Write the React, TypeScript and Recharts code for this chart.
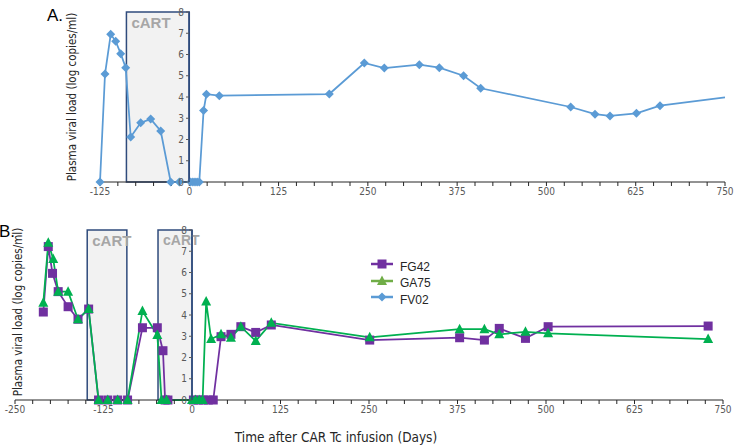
import React from "react";
import { LineChart, Line, XAxis, YAxis, ReferenceArea } from "recharts";

// Panel A: FV02
const fv02Days = [-125, -118, -110, -103, -96, -89, -82, -68, -54, -40, -26, -14, 2, 5, 8, 11, 14, 20, 24, 42, 196, 245, 273, 322, 350, 384, 408, 534, 568, 589, 626, 659, 750];
const fv02Load = [0, 5.08, 6.95, 6.62, 6.04, 5.38, 2.12, 2.79, 2.96, 2.4, 0, 0, 0, 0, 0, 0, 0, 3.36, 4.13, 4.06, 4.14, 5.6, 5.36, 5.52, 5.38, 5.0, 4.41, 3.53, 3.19, 3.11, 3.23, 3.59, 3.98];

// Panel B: FG42 and GA75
const fg42Days = [-210, -203, -197, -189, -175, -161, -146, -132, -119, -105, -91, -70, -49, -41, -38, -34, 2, 9, 16, 23, 30, 41, 55, 69, 90, 112, 251, 378, 413, 434, 471, 503, 729];
const fg42Load = [4.14, 7.22, 5.96, 5.1, 4.39, 3.8, 4.28, 0, 0, 0, 0, 3.4, 3.4, 2.32, 0, 0, 0, 0, 0, 0, 0, 2.98, 3.09, 3.45, 3.18, 3.53, 2.82, 2.93, 2.82, 3.37, 2.9, 3.45, 3.48];
const ga75Days = [-210, -203, -196, -189, -175, -161, -146, -132, -119, -105, -91, -70, -49, -43, -36, 0, 5, 10, 15, 20, 27, 41, 55, 69, 90, 112, 251, 378, 413, 434, 471, 503, 729];
const ga75Load = [4.58, 7.4, 6.63, 5.1, 5.1, 3.8, 4.28, 0, 0, 0, 0, 4.19, 3.06, 0, 0, 0, 0, 0, 0, 4.63, 2.87, 3.09, 2.93, 3.45, 2.78, 3.63, 2.95, 3.33, 3.33, 3.09, 3.21, 3.14, 2.87];

// cART periods
const cartA = [-88, 0];
const cartB1 = [-148, -92];
const cartB2 = [-48, 0];

const seriesNames = ["FG42", "GA75", "FV02"];
const yTicks = [0, 1, 2, 3, 4, 5, 6, 7, 8];
const xTicksA = [-125, -100, -75, -50, -25, 0, 25, 50, 75, 100, 125, 150, 175, 200, 225, 250, 275, 300, 325, 350, 375, 400, 425, 450, 475, 500, 525, 550, 575, 600, 625, 650, 675, 700, 725, 750];
const xTicksB = [-250, -225, -200, -175, -150, ...xTicksA];

const PURPLE = "#7030a0";
const GREEN = "#00b050";
const BLUE = "#5b9bd5";
const NAVY = "#2f4b7c";
const TICK = "#595959";
const FONT = '"Liberation Sans Narrow", "DejaVu Sans Condensed", "Liberation Sans", sans-serif';

const zip = (days: number[], load: number[]) => days.map((d, i) => ({ day: d, load: load[i] }));
const fv02 = zip(fv02Days, fv02Load);
const fg42 = zip(fg42Days, fg42Load);
const ga75 = zip(ga75Days, ga75Load);

const fmtX = (v: number) => (v % 125 === 0 ? String(v) : "");

function marker(shape: string, color: string, cx: number, cy: number, key?: any) {
  if (shape === "diamond")
    return <path key={key} d={`M${cx},${cy - 4.5}L${cx + 4.5},${cy}L${cx},${cy + 4.5}L${cx - 4.5},${cy}Z`} fill={color} />;
  if (shape === "square") return <rect key={key} x={cx - 4.5} y={cy - 4.5} width={9} height={9} fill={color} />;
  return <path key={key} d={`M${cx},${cy - 5.5}L${cx + 5},${cy + 4}L${cx - 5},${cy + 4}Z`} fill={color} />;
}

const dotFor = (shape: string, color: string, skipLast = 0) => (p: any) => {
  if (skipLast && p.index >= skipLast - 1) return <g key={p.index} />;
  return marker(shape, color, p.cx, p.cy, p.index);
};

const shapes: Record<string, [string, string]> = {
  FG42: ["square", PURPLE],
  GA75: ["triangle", "#70ad47"],
  FV02: ["diamond", BLUE],
};

function LegendBox() {
  return (
    <div style={{ position: "absolute", left: 370, top: 256, fontFamily: '"Liberation Sans", sans-serif', fontSize: 12, color: "#262626" }}>
      {seriesNames.map((name) => {
        const [shape, color] = shapes[name];
        return (
          <div key={name} style={{ display: "flex", alignItems: "center", height: 16.5 }}>
            <svg width={24} height={12} style={{ marginRight: 6 }}>
              <line x1={1} x2={23} y1={6} y2={6} stroke={color} strokeWidth={2.5} />
              {marker(shape, color, 12, 6)}
            </svg>
            <span style={{ marginTop: 5 }}>{name}</span>
          </div>
        );
      })}
    </div>
  );
}

const cartLabel = { value: "cART", position: "insideTopLeft" as const, fill: "#a6a6a6", fontSize: 15, fontWeight: "bold", fontFamily: '"Liberation Sans", sans-serif' };

// second chart whose y axis sits at day 0
function YOverlay({ top, height, left, bottom, data }: { top: number; height: number; left: number; bottom: number; data: any[] }) {
  return (
    <div style={{ position: "absolute", left: 0, top, pointerEvents: "none" }}>
      <LineChart width={743} height={height} data={data} margin={{ top: 12, right: 18, bottom, left }}>
        <XAxis type="number" dataKey="day" domain={[0, 750]} allowDataOverflow hide />
        <YAxis
          type="number"
          domain={[0, 8]}
          ticks={yTicks}
          width={20}
          tickSize={3}
          axisLine={{ stroke: NAVY, strokeWidth: 1.5 }}
          tickLine={{ stroke: TICK }}
          tick={{ fill: TICK, fontSize: 10, fontFamily: FONT }}
        />
        <Line dataKey="load" stroke="none" dot={false} isAnimationActive={false} />
      </LineChart>
    </div>
  );
}

export default function App() {
  const xTick = { fill: TICK, fontSize: 10, fontFamily: FONT };
  return (
    <div style={{ position: "absolute", left: 0, top: 0, width: 743, height: 445, background: "#fff" }}>
      <div style={{ position: "absolute", left: 47, top: 6, fontSize: 17, fontFamily: '"Liberation Sans", sans-serif' }}>A.</div>
      <div style={{ position: "absolute", left: -1, top: 222, fontSize: 17, fontFamily: '"Liberation Sans", sans-serif' }}>B.</div>

      {/* Panel A */}
      <div style={{ position: "absolute", left: 0, top: 0 }}>
        <LineChart width={743} height={210} margin={{ top: 12, right: 18, bottom: 8, left: 100 }}>
          <ReferenceArea x1={cartA[0]} x2={cartA[1]} y1={0} y2={8} fill="#f2f2f2" fillOpacity={1} stroke={NAVY} strokeWidth={1.5} label={cartLabel} />
          <XAxis
            type="number"
            dataKey="day"
            domain={[-125, 750]}
            ticks={xTicksA}
            tickFormatter={fmtX}
            interval={0}
            height={20}
            tickSize={4}
            axisLine={{ stroke: "#262626" }}
            tickLine={{ stroke: "#262626" }}
            tick={xTick}
          />
          <YAxis type="number" domain={[0, 8]} hide />
          <Line data={fv02} dataKey="load" name="FV02" stroke={BLUE} strokeWidth={1.75} dot={dotFor("diamond", BLUE, fv02.length)} isAnimationActive={false} />
        </LineChart>
      </div>
      <YOverlay top={0} height={210} left={169} bottom={28} data={fv02} />

      {/* Panel B */}
      <div style={{ position: "absolute", left: 0, top: 218 }}>
        <LineChart width={743} height={227} margin={{ top: 12, right: 20, bottom: 5, left: 15 }}>
          <ReferenceArea x1={cartB1[0]} x2={cartB1[1]} y1={0} y2={8} fill="#f2f2f2" fillOpacity={1} stroke={NAVY} strokeWidth={1.5} label={cartLabel} />
          <ReferenceArea x1={cartB2[0]} x2={cartB2[1]} y1={0} y2={8} fill="#f2f2f2" fillOpacity={1} stroke={NAVY} strokeWidth={1.5} label={{ ...cartLabel, fontSize: 14, offset: 5 }} />
          <XAxis
            type="number"
            dataKey="day"
            domain={[-250, 750]}
            ticks={xTicksB}
            tickFormatter={fmtX}
            interval={0}
            height={40}
            tickSize={4}
            axisLine={{ stroke: "#262626" }}
            tickLine={{ stroke: "#262626" }}
            tick={xTick}
          />
          <YAxis type="number" domain={[0, 8]} hide />
          <Line data={fg42} dataKey="load" name="FG42" stroke={PURPLE} strokeWidth={1.75} dot={dotFor("square", PURPLE)} isAnimationActive={false} />
          <Line data={ga75} dataKey="load" name="GA75" stroke={GREEN} strokeWidth={1.75} dot={dotFor("triangle", GREEN)} isAnimationActive={false} />
        </LineChart>
      </div>
      <YOverlay top={218} height={227} left={172} bottom={45} data={fg42} />
      <LegendBox />

      <div style={{ position: "absolute", left: 72, top: 97, transform: "translate(-50%, -50%) rotate(-90deg)", whiteSpace: "nowrap", fontSize: 11.5, color: "#262626", fontFamily: FONT }}>
        Plasma viral load (log copies/ml)
      </div>
      <div style={{ position: "absolute", left: 18, top: 312, transform: "translate(-50%, -50%) rotate(-90deg)", whiteSpace: "nowrap", fontSize: 11.5, color: "#262626", fontFamily: FONT }}>
        Plasma viral load (log copies/ml)
      </div>
      <div style={{ position: "absolute", left: 336, top: 437, transform: "translate(-50%, -50%)", whiteSpace: "nowrap", fontSize: 13.5, color: "#262626", fontFamily: FONT }}>
        Time after CAR Tc infusion (Days)
      </div>
    </div>
  );
}
